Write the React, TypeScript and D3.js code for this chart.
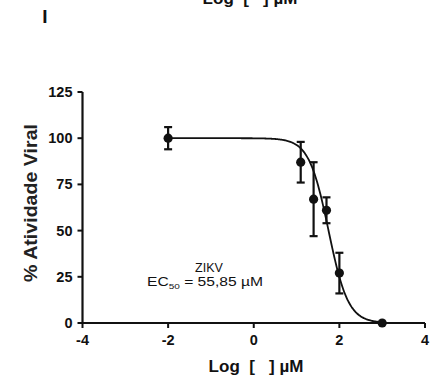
import React from "react";
import * as d3 from "d3";

// Dose-response data (log10 of concentration in µM)
const logConc = [-2, 1.097, 1.398, 1.699, 2, 3];
const meanActivity = [100, 87, 67, 61, 27, 0];
const errActivity = [6, 11, 20, 7, 11, 0];

const xTicks = [-4, -2, 0, 2, 4];
const yTicks = [0, 25, 50, 75, 100, 125];

// Four-parameter logistic fit
const ec50 = 55.85;
const hillSlope = 1.9;
const top = 100;
const bottom = 0;

const W = 430;
const H = 378;

export default function App() {
  const x = d3.scaleLinear().domain([-4, 4]).range([82.5, 425]);
  const y = d3.scaleLinear().domain([0, 125]).range([323, 92]);

  const logEc50 = Math.log10(ec50);
  const fit = (lx: number) =>
    bottom + (top - bottom) / (1 + Math.pow(10, (lx - logEc50) * hillSlope));

  const curvePts = d3.range(-2, 3.0001, 0.02).map((lx) => [lx, fit(lx)] as [number, number]);
  const line = d3
    .line<[number, number]>()
    .x((d) => x(d[0]))
    .y((d) => y(d[1]))
    .curve(d3.curveBasis);

  const ink = "#111";
  const font = "'Liberation Sans', Arial, sans-serif";
  const x0 = x(-4);
  const y0 = y(0);

  return (
    <svg
      width={W}
      height={H}
      style={{ position: "fixed", left: 0, top: 0, background: "#fff" }}
      fontFamily={font}
    >
      {/* panel heading from the figure above, clipped at the top edge */}
      <text
        x={250}
        y={4}
        textAnchor="middle"
        fontSize={17}
        fontWeight="bold"
        fill={ink}
        style={{ whiteSpace: "pre" }}
      >
        {"Log  [   ] µM"}
      </text>
      <text x={45} y={23} textAnchor="middle" fontSize={19} fontWeight="bold" fill={ink}>
        I
      </text>

      {/* axes */}
      <line x1={x0} x2={x(4)} y1={y0} y2={y0} stroke={ink} strokeWidth={2.2} />
      <line x1={x0} x2={x0} y1={y(125)} y2={y0} stroke={ink} strokeWidth={2.2} />

      {yTicks.map((t) => (
        <g key={"y" + t}>
          <line x1={x0 - 5} x2={x0} y1={y(t)} y2={y(t)} stroke={ink} strokeWidth={2} />
          <text
            x={x0 - 10}
            y={y(t) + 5}
            textAnchor="end"
            fontSize={14.5}
            fontWeight="bold"
            fill={ink}
          >
            {t}
          </text>
        </g>
      ))}
      {xTicks.map((t) => (
        <g key={"x" + t}>
          <line x1={x(t)} x2={x(t)} y1={y0} y2={y0 + 5} stroke={ink} strokeWidth={2} />
          <text
            x={x(t)}
            y={y0 + 22}
            textAnchor="middle"
            fontSize={14.5}
            fontWeight="bold"
            fill={ink}
          >
            {t}
          </text>
        </g>
      ))}

      {/* axis titles */}
      <text
        x={256}
        y={372}
        textAnchor="middle"
        fontSize={17}
        fontWeight="bold"
        fill={ink}
        style={{ whiteSpace: "pre" }}
      >
        {"Log  [   ] µM"}
      </text>
      <text
        transform="translate(37,203) rotate(-90)"
        textAnchor="middle"
        fontSize={18}
        fontWeight="bold"
        fill="#222"
        textLength={158}
        lengthAdjust="spacingAndGlyphs"
      >
        % Atividade Viral
      </text>

      {/* fitted curve */}
      <path d={line(curvePts) || ""} fill="none" stroke={ink} strokeWidth={1.8} />

      {/* error bars and means */}
      {logConc.map((lx, i) => {
        const cx = x(lx);
        const m = meanActivity[i];
        const e = errActivity[i];
        return (
          <g key={"p" + i}>
            {e > 0 && (
              <>
                <line x1={cx} x2={cx} y1={y(m + e)} y2={y(m - e)} stroke={ink} strokeWidth={2.2} />
                <line x1={cx - 4} x2={cx + 4} y1={y(m + e)} y2={y(m + e)} stroke={ink} strokeWidth={2.2} />
                <line x1={cx - 4} x2={cx + 4} y1={y(m - e)} y2={y(m - e)} stroke={ink} strokeWidth={2.2} />
              </>
            )}
            <circle cx={cx} cy={y(m)} r={4.6} fill={ink} />
          </g>
        );
      })}

      {/* annotation */}
      <text x={209} y={272} textAnchor="middle" fontSize={12.5} fill={ink}>
        ZIKV
      </text>
      <text
        x={147}
        y={286}
        fontSize={12.5}
        fill={ink}
        textLength={116}
        lengthAdjust="spacingAndGlyphs"
      >
        EC
        <tspan fontSize={8} dy={3}>
          50
        </tspan>
        <tspan dy={-3}> = 55,85 µM</tspan>
      </text>
    </svg>
  );
}
